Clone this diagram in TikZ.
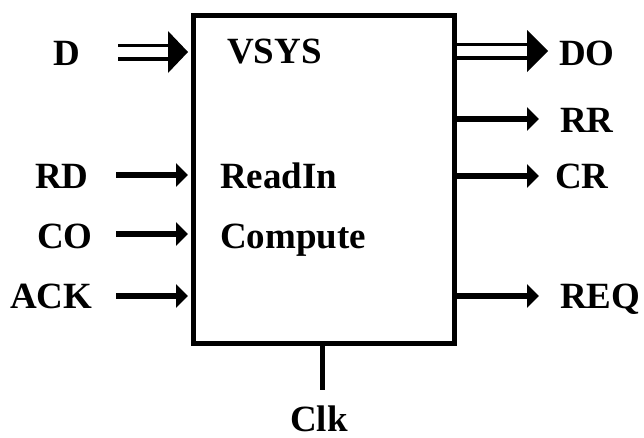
\documentclass[tikz,border=0pt]{standalone}
\usepackage{fontspec}
\setmainfont{Liberation Serif}
\usetikzlibrary{arrows.meta}
\begin{document}
\begin{tikzpicture}[x=1pt,y=-1pt,
  lbl/.style={font=\fontsize{37}{40}\selectfont\bfseries, inner sep=0pt, anchor=base west},
  sig/.style={line width=5.5pt, -{Triangle[length=12pt,width=23pt]}},
  bus/.style={line width=3.5pt},
  bushead/.style={fill=black}]
\useasboundingbox[fill=white] (0,0) rectangle (644,437);
\node[draw, line width=5pt, minimum width=261.5pt, minimum height=328pt, inner sep=0pt] (box) at (323.75,179) {};

% labels
\node[lbl] (lD) at (53,65) {D};
\node[lbl] (lRD) at (35,188) {RD};
\node[lbl] (lCO) at (37,248) {CO};
\node[lbl] (lACK) at (10,308) {ACK};
\node[lbl] (lVSYS) at (227,63) {VSYS};
\node[lbl] (lReadIn) at (220,188) {ReadIn};
\node[lbl] (lCompute) at (220,248) {Compute};
\node[lbl] (lDO) at (559,65) {DO};
\node[lbl] (lRR) at (560,132) {RR};
\node[lbl] (lCR) at (555,188) {CR};
\node[lbl] (lREQ) at (560,308) {REQ};
\node[lbl, anchor=base] (lClk) at (319,431) {Clk};

% input D bus
\coordinate (dS) at (118,52);
\coordinate (dB) at (168,52);
\coordinate[xshift=-2.5pt] (dT) at (dS -| box.west);
\draw[bus] ([yshift=6.75pt]dS) -- ([yshift=6.75pt]dB);
\draw[bus] ([yshift=-6.75pt]dS) -- ([yshift=-6.75pt]dB);
\fill[bushead] ([yshift=21pt]dB) -- (dT) -- ([yshift=-21pt]dB) -- cycle;

% single inputs
\coordinate (rdS) at (116,175);
\coordinate (coS) at (116,234);
\coordinate (ackS) at (116,296);
\draw[sig, shorten >=2.5pt] (rdS) -- (rdS -| box.west);
\draw[sig, shorten >=2.5pt] (coS) -- (coS -| box.west);
\draw[sig, shorten >=2.5pt] (ackS) -- (ackS -| box.west);

% output DO bus
\coordinate (doB) at (527,51);
\coordinate (doT) at (548,51);
\coordinate (doS) at (doB -| box.east);
\draw[bus] ([yshift=6.75pt]doS) -- ([yshift=6.75pt]doB);
\draw[bus] ([yshift=-6.75pt]doS) -- ([yshift=-6.75pt]doB);
\fill[bushead] ([yshift=21pt]doB) -- (doT) -- ([yshift=-21pt]doB) -- cycle;

% single outputs
\coordinate (rrE) at (539,119);
\coordinate (crE) at (539,176);
\coordinate (reqE) at (539,296);
\draw[sig] (rrE -| box.east) -- (rrE);
\draw[sig] (crE -| box.east) -- (crE);
\draw[sig] (reqE -| box.east) -- (reqE);

% clock
\coordinate (clkE) at (322,390);
\draw[line width=5pt] (clkE |- box.south) -- (clkE);
\end{tikzpicture}
\end{document}
